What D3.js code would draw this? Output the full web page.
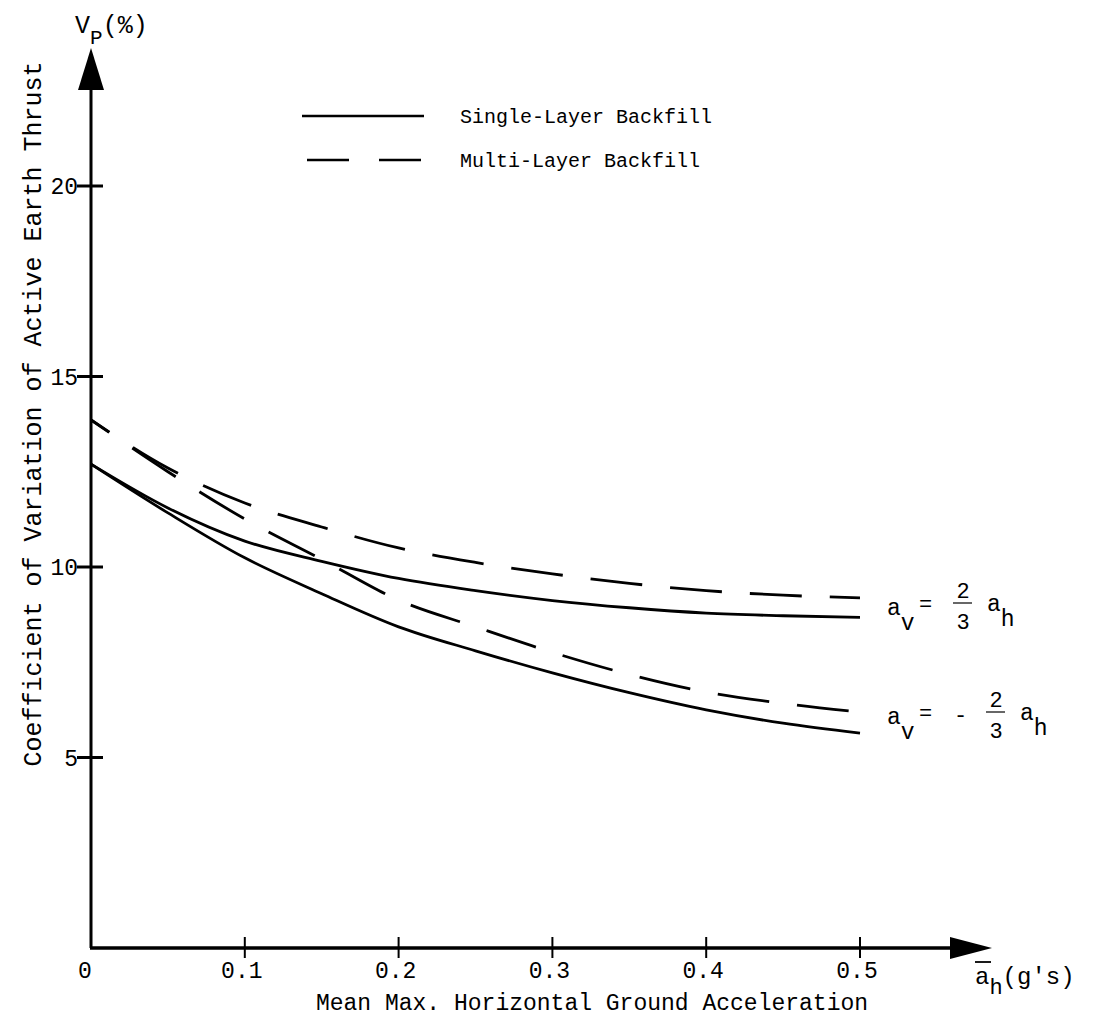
<!DOCTYPE html>
<html>
<head>
<meta charset="utf-8">
<script src="https://cdn.jsdelivr.net/npm/d3@7"></script>
<style>
  body { margin: 0; background: #fff; }
  text { font-family: "Liberation Mono", "DejaVu Sans Mono", monospace; fill: #000; }
</style>
</head>
<body>
<script>
const width = 1105;
const height = 1021;

// data
const accel = [0, 0.05, 0.1, 0.15, 0.2, 0.25, 0.3, 0.35, 0.4, 0.45, 0.5];
const singleUp = [12.7, 11.55, 10.68, 10.15, 9.7, 9.38, 9.12, 8.93, 8.79, 8.72, 8.68];
const singleDown = [12.7, 11.42, 10.24, 9.3, 8.43, 7.8, 7.22, 6.7, 6.25, 5.9, 5.64];
const multiUp = [13.86, 12.6, 11.68, 11.05, 10.5, 10.12, 9.82, 9.57, 9.38, 9.26, 9.19];
const multiDown = [13.86, 12.5, 11.26, 10.2, 9.13, 8.43, 7.76, 7.18, 6.72, 6.42, 6.19];
const xTicks = [0, 0.1, 0.2, 0.3, 0.4, 0.5];
const yTicks = [5, 10, 15, 20];
const legendItems = ['Single-Layer Backfill', 'Multi-Layer Backfill'];

const x = d3.scaleLinear().domain([0, 0.5]).range([91, 860]);
const y = d3.scaleLinear().domain([0, 20]).range([948, 186]);

const svg = d3.select("body").append("svg")
    .attr("width", width)
    .attr("height", height);

// axes with arrow heads
svg.append("line")
    .attr("x1", x(0)).attr("y1", y(0))
    .attr("x2", x(0)).attr("y2", 86)
    .attr("stroke", "#000").attr("stroke-width", 3);
svg.append("path")
    .attr("d", `M${x(0)},48 L${x(0) - 13},90 L${x(0) + 13},90 Z`)
    .attr("fill", "#000");
svg.append("line")
    .attr("x1", x(0) - 1).attr("y1", y(0))
    .attr("x2", 952).attr("y2", y(0))
    .attr("stroke", "#000").attr("stroke-width", 3.5);
svg.append("path")
    .attr("d", `M992,${y(0)} L950,${y(0) - 11} L950,${y(0) + 11} Z`)
    .attr("fill", "#000");

// y ticks (crosses)
svg.selectAll(".ytick")
    .data(yTicks)
    .join("line")
    .attr("class", "ytick")
    .attr("x1", x(0) - 14).attr("x2", x(0) + 12)
    .attr("y1", d => y(d)).attr("y2", d => y(d))
    .attr("stroke", "#000").attr("stroke-width", 3);
svg.selectAll(".ylab")
    .data(yTicks)
    .join("text")
    .attr("class", "ylab")
    .attr("x", x(0) - 13)
    .attr("y", d => y(d) + 8)
    .attr("text-anchor", "end")
    .attr("font-size", 23)
    .text(d => d);

// x ticks
svg.selectAll(".xtick")
    .data(xTicks.slice(1))
    .join("line")
    .attr("class", "xtick")
    .attr("x1", d => x(d)).attr("x2", d => x(d))
    .attr("y1", y(0) - 11).attr("y2", y(0) + 10)
    .attr("stroke", "#000").attr("stroke-width", 2);
svg.selectAll(".xlab")
    .data(xTicks)
    .join("text")
    .attr("class", "xlab")
    .attr("x", d => d === 0 ? x(d) - 6 : x(d) - 3)
    .attr("y", 978)
    .attr("text-anchor", "middle")
    .attr("font-size", 23)
    .text(d => d === 0 ? "0" : d3.format(".1f")(d));

// axis titles
svg.append("text")
    .attr("x", 592).attr("y", 1010)
    .attr("text-anchor", "middle")
    .attr("font-size", 23)
    .text("Mean Max. Horizontal Ground Acceleration");
svg.append("text")
    .attr("transform", "translate(41,414) rotate(-90)")
    .attr("text-anchor", "middle")
    .attr("font-size", 25)
    .text("Coefficient of Variation of Active Earth Thrust");

// V_P(%)
const vp = svg.append("text").attr("x", 75).attr("y", 33).attr("font-size", 25);
vp.append("tspan").text("V");
vp.append("tspan").attr("dy", 11).attr("font-size", 21).text("P");
vp.append("tspan").attr("dy", -11).text("(%)");

// a_h(g's)
const ah = svg.append("text").attr("x", 975).attr("y", 984).attr("font-size", 24);
ah.append("tspan").text("a");
ah.append("tspan").attr("dy", 10).attr("font-size", 22).text("h");
ah.append("tspan").attr("dy", -10).text("(g's)");
svg.append("line")
    .attr("x1", 975).attr("x2", 991)
    .attr("y1", 962).attr("y2", 962)
    .attr("stroke", "#000").attr("stroke-width", 1.8);

// curves
const line = d3.line()
    .x((d, i) => x(accel[i]))
    .y(d => y(d))
    .curve(d3.curveMonotoneX);

const series = [
    {values: singleUp, dash: null},
    {values: singleDown, dash: null},
    {values: multiUp, dash: "52,28"},
    {values: multiDown, dash: "52,28"}
];
svg.selectAll(".curve")
    .data(series)
    .join("path")
    .attr("class", "curve")
    .attr("d", d => line(d.values))
    .attr("fill", "none")
    .attr("stroke", "#000")
    .attr("stroke-width", 2.8)
    .attr("stroke-dasharray", d => d.dash)
    .attr("stroke-dashoffset", d => d.dash ? 30 : null);

// legend
const legend = svg.selectAll(".legend")
    .data(legendItems)
    .join("g")
    .attr("class", "legend")
    .attr("transform", (d, i) => `translate(0,${116 + i * 44})`);
legend.append("line")
    .attr("x1", 302).attr("x2", 424)
    .attr("y1", 0).attr("y2", 0)
    .attr("stroke", "#000").attr("stroke-width", 2.6)
    .attr("stroke-dasharray", (d, i) => i ? "42,30" : null)
    .attr("stroke-dashoffset", (d, i) => i ? -5 : null);
legend.append("text")
    .attr("x", 460).attr("y", 7)
    .attr("font-size", 20)
    .text(d => d);

// right labels
function relLabel(yBase, negative) {
    const g = svg.append("g");
    const t = g.append("text").attr("x", 887).attr("y", yBase).attr("font-size", 23);
    t.append("tspan").text("a");
    t.append("tspan").attr("dy", 15).text("v");
    g.append("text").attr("x", 919).attr("y", yBase - 4).attr("font-size", 22).text("=");
    let fx = 953;
    if (negative) {
        g.append("text").attr("x", 954).attr("y", yBase - 2).attr("font-size", 22).text("-");
        fx = 986;
    }
    const fy = yBase - 12;
    g.append("text").attr("x", fx + 10).attr("y", fy - 5).attr("text-anchor", "middle")
        .attr("font-size", 22).attr("font-family", "Liberation Sans").text("2");
    g.append("line").attr("x1", fx).attr("x2", fx + 19).attr("y1", fy).attr("y2", fy)
        .attr("stroke", "#000").attr("stroke-width", 1.2);
    g.append("text").attr("x", fx + 10).attr("y", fy + 26).attr("text-anchor", "middle")
        .attr("font-size", 22).attr("font-family", "Liberation Sans").text("3");
    const t2 = g.append("text").attr("x", fx + 34).attr("y", yBase - 4).attr("font-size", 23);
    t2.append("tspan").text("a");
    t2.append("tspan").attr("dy", 15).text("h");
}
relLabel(615, false);
relLabel(724, true);
</script>
</body>
</html>
